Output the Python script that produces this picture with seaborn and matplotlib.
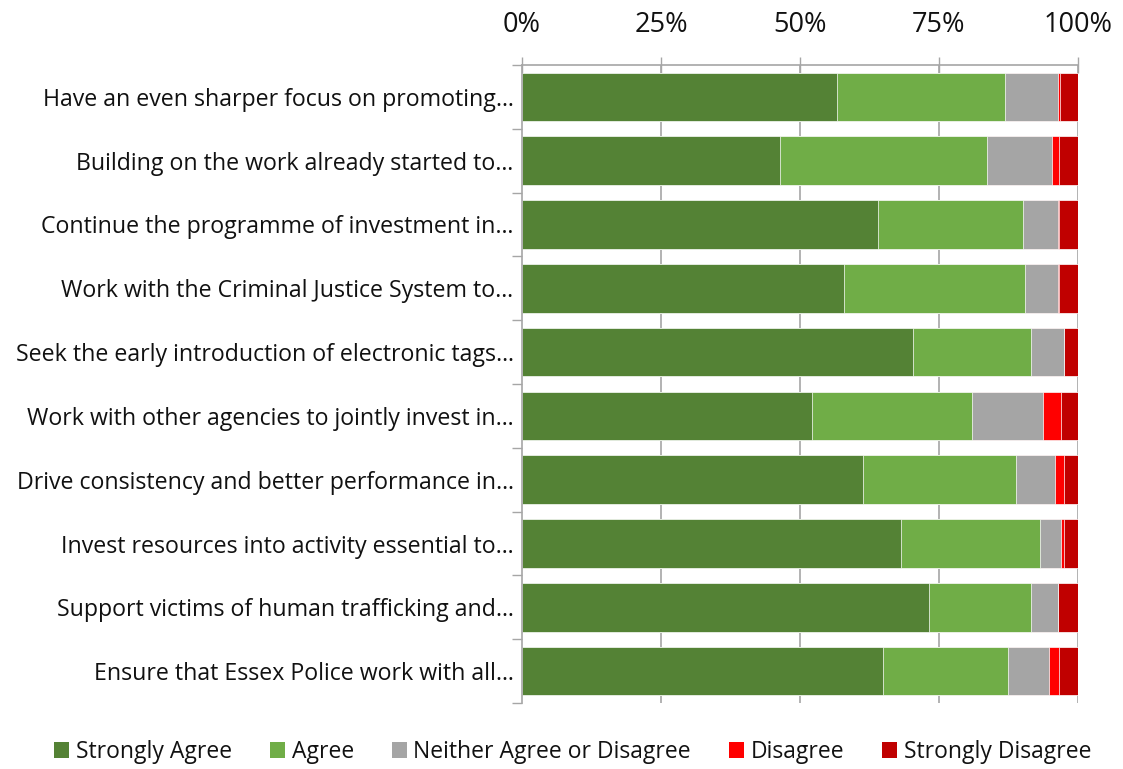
import numpy as np
import pandas as pd
import matplotlib
matplotlib.use("Agg")
import matplotlib.pyplot as plt
import seaborn as sns
from matplotlib.patches import Patch
from matplotlib.ticker import FixedLocator, PercentFormatter

statements = [
    "Have an even sharper focus on promoting\u2026",
    "Building on the work already started to\u2026",
    "Continue the programme of investment in\u2026",
    "Work with the Criminal Justice System to\u2026",
    "Seek the early introduction of electronic tags\u2026",
    "Work with other agencies to jointly invest in\u2026",
    "Drive consistency and better performance in\u2026",
    "Invest resources into activity essential to\u2026",
    "Support victims of human trafficking and\u2026",
    "Ensure that Essex Police work with all\u2026",
]

strongly_agree = [56.6, 46.4, 64.1, 57.9, 70.3, 52.1, 61.4, 68.1, 73.2, 65.0]
agree = [30.3, 37.2, 26.0, 32.6, 21.3, 28.8, 27.5, 25.1, 18.3, 22.4]
neither = [9.5, 11.8, 6.3, 5.9, 5.9, 12.8, 6.9, 3.7, 4.9, 7.4]
disagree = [0.3, 1.1, 0.2, 0.2, 0.0, 3.2, 1.6, 0.5, 0.0, 1.7]
strongly_disagree = [3.3, 3.5, 3.4, 3.4, 2.5, 3.1, 2.6, 2.6, 3.6, 3.5]

responses = ["Strongly Agree", "Agree", "Neither Agree or Disagree",
             "Disagree", "Strongly Disagree"]
colors = ["#548235", "#70AD47", "#A5A5A5", "#FF0000", "#C00000"]

df = pd.DataFrame({
    "statement": statements,
    responses[0]: strongly_agree,
    responses[1]: agree,
    responses[2]: neither,
    responses[3]: disagree,
    responses[4]: strongly_disagree,
})
cum = df[responses].cumsum(axis=1)

sns.set_theme(style="white")
plt.rcParams["font.family"] = ["Open Sans", "DejaVu Sans"]

fig = plt.figure(figsize=(11.23, 7.69), dpi=100)
ax = fig.add_axes([0.4648, 0.0858, 0.9599 - 0.4648, 0.9155 - 0.0858])

# gridlines behind the bars
for x in [25, 50, 75, 100]:
    ax.axvline(x, color="#A6A6A6", lw=1.2, zorder=0)

# stack by drawing cumulative totals from largest to smallest
for resp, col in reversed(list(zip(responses, colors))):
    sns.barplot(x=cum[resp], y=df["statement"], orient="h", color=col,
                width=0.76, saturation=1, ax=ax, zorder=2,
                edgecolor="white", linewidth=0.5)

ax.set_xlim(0, 100)
ax.set_ylim(len(statements) - 0.5, -0.5)
ax.set_xlabel("")
ax.set_ylabel("")

ax.xaxis.set_ticks_position("top")
ax.xaxis.set_label_position("top")
ax.set_xticks([0, 25, 50, 75, 100])
ax.xaxis.set_major_formatter(PercentFormatter(decimals=0))
ax.tick_params(axis="x", which="major", direction="inout", length=11,
               width=1, color="#A6A6A6", labelsize=19.5, pad=13,
               labelcolor="#111111")

ax.tick_params(axis="y", which="major", length=0, labelsize=16.7,
               pad=6, labelcolor="#111111")
ax.yaxis.set_minor_locator(FixedLocator(np.arange(-0.5, len(statements), 1.0)))
ax.tick_params(axis="y", which="minor", direction="out", length=7,
               width=1, color="#A6A6A6", left=True)

for side in ["right", "bottom"]:
    ax.spines[side].set_visible(False)
for side in ["top", "left"]:
    ax.spines[side].set_color("#A6A6A6")
    ax.spines[side].set_linewidth(1.2)

handles = [Patch(facecolor=c, edgecolor="none", label=r)
           for r, c in zip(responses, colors)]
fig.legend(handles=handles, loc="center", bbox_to_anchor=(0.51, 0.022),
           ncol=5, frameon=False, fontsize=16.5, handlelength=0.65,
           handleheight=0.65, handletextpad=0.3, columnspacing=1.65,
           labelcolor="#111111")

fig.savefig("out.png", dpi=100)
